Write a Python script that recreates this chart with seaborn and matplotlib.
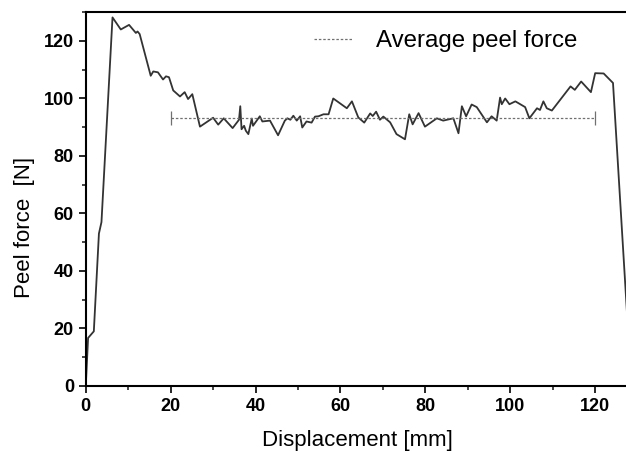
import matplotlib
matplotlib.use("Agg")
import matplotlib.pyplot as plt
from matplotlib.ticker import MultipleLocator
import seaborn as sns
import pandas as pd

# peel test curve
displacement = [0, 0.55, 1.9, 3.1, 3.7, 6.3, 8.25, 10.2, 11.8, 12.2,
                12.7, 15.3, 15.9, 17.0, 18.2, 18.9, 19.6, 20.6, 22.2, 23.3,
                24.1, 25.1, 26.9, 30.0, 31.2, 32.5, 34.6, 36.1, 36.4, 36.7,
                37.3, 37.7, 38.3, 39.1, 39.4, 41.0, 41.6, 43.4, 45.3, 46.9,
                47.5, 48.2, 48.9, 49.7, 50.5, 51.0, 52.0, 53.2, 54.0, 54.8,
                56.0, 57.2, 58.3, 61.5, 62.7, 64.2, 65.6, 67.0, 67.6, 68.4,
                69.3, 70.1, 71.7, 73.2, 75.2, 76.2, 77.0, 78.4, 79.9, 82.7,
                84.2, 86.6, 87.8, 88.6, 89.6, 90.9, 92.1, 94.5, 95.6, 96.8,
                97.6, 98.0, 98.8, 99.8, 101.2, 103.5, 104.5, 106.3, 107.0, 107.8,
                108.6, 109.8, 114.2, 115.2, 116.7, 119.0, 120.0, 122.0, 123.6, 124.2,
                127.8]
peel_force = [0, 16.7, 19, 53, 57, 128.2, 124, 125.6, 122.8, 123.3,
              122.4, 107.9, 109.4, 109.1, 106.6, 107.7, 107.4, 102.8, 100.7, 102.2,
              99.8, 101.5, 90.2, 93.3, 90.9, 93.1, 89.7, 92.6, 97.3, 89.3,
              90.5, 88.8, 87.6, 93.0, 90.5, 93.8, 92.0, 92.3, 87.2, 92.3,
              93.1, 92.6, 94.0, 92.3, 93.8, 89.9, 92.0, 91.6, 93.7, 93.8,
              94.5, 94.5, 100.0, 96.6, 99.0, 93.4, 91.6, 94.8, 93.9, 95.4,
              92.6, 93.7, 91.7, 87.6, 85.8, 94.5, 91.0, 94.9, 90.2, 93.1,
              92.3, 93.1, 87.9, 97.3, 93.8, 97.9, 97.0, 91.7, 93.8, 92.3,
              100.3, 98.0, 100.0, 98.0, 99.0, 97.0, 93.1, 96.6, 96.0, 99.0,
              96.6, 95.8, 104.2, 103.0, 105.9, 102.2, 108.8, 108.7, 106.3, 105.4,
              18]

avg_force = 93.2
avg_start, avg_end = 20, 120

df = pd.DataFrame({"Displacement": displacement, "Force": peel_force})

sns.set_style("ticks")
plt.rcParams["font.family"] = ["Liberation Sans", "DejaVu Sans"]
plt.rcParams["text.color"] = "black"
plt.rcParams["axes.labelcolor"] = "black"

fig = plt.figure(figsize=(6.26, 4.53), dpi=100)
ax = fig.add_axes([0.137, 0.148, 0.868, 0.825])

sns.lineplot(data=df, x="Displacement", y="Force", estimator=None,
             color="#333333", linewidth=1.3, ax=ax)

# average line with end caps
ax.plot([avg_start, avg_end], [avg_force, avg_force], linestyle=(0, (2, 1.5)),
        color="#707070", linewidth=0.9, label="Average peel force")
ax.vlines([avg_start, avg_end], avg_force - 2.4, avg_force + 2.4,
          color="#707070", linewidth=0.9)

ax.set_xlim(0, 128)
ax.set_ylim(0, 130)
ax.xaxis.set_major_locator(MultipleLocator(20))
ax.xaxis.set_minor_locator(MultipleLocator(10))
ax.yaxis.set_major_locator(MultipleLocator(20))
ax.yaxis.set_minor_locator(MultipleLocator(10))
ax.tick_params(which="major", direction="out", length=5, width=1.2,
               labelsize=13, pad=3.5, colors="black")
ax.tick_params(which="minor", direction="out", length=3, width=1.2)
for lab in ax.get_xticklabels() + ax.get_yticklabels():
    lab.set_fontweight("bold")

for sp in ax.spines.values():
    sp.set_visible(True)
    sp.set_linewidth(1.5)
    sp.set_color("black")

ax.set_xlabel("Displacement [mm]", fontsize=16)
ax.xaxis.set_label_coords(0.5, -0.162)
ax.xaxis.label.set_verticalalignment("baseline")
ax.set_ylabel("Peel force  [N]", fontsize=16)
ax.yaxis.set_label_coords(-0.112, 0.424)
ax.yaxis.label.set_verticalalignment("center")

leg = ax.legend(loc="upper right", frameon=False, fontsize=17.3,
                handlelength=1.6, handletextpad=1.0,
                bbox_to_anchor=(0.945, 1.01))

fig.savefig("out.png", dpi=100)
